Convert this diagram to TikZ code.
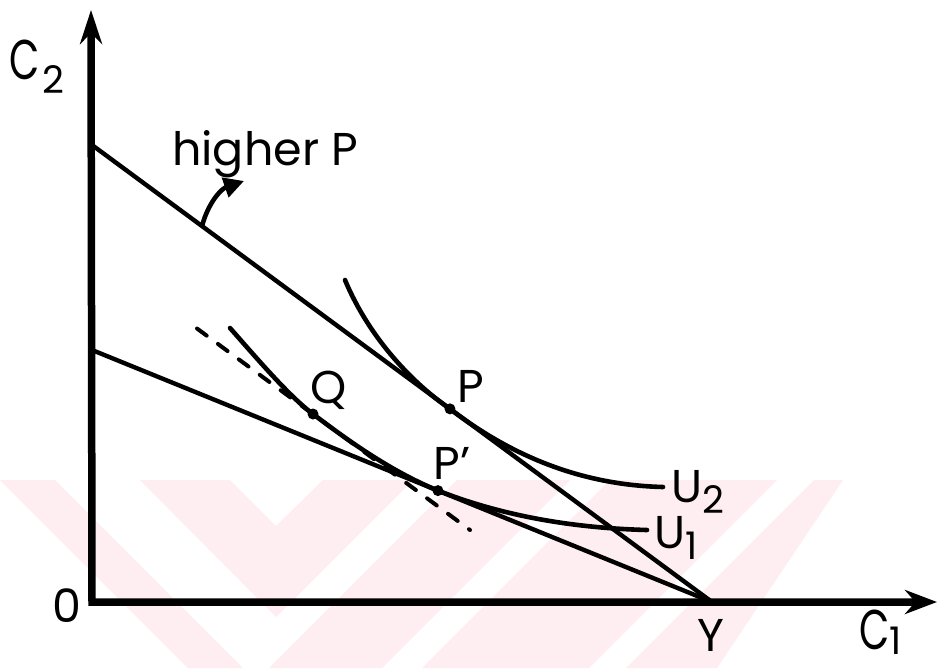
\documentclass[tikz,border=0pt]{standalone}
\usepackage{fontspec}
\usepackage{graphicx}
\setmainfont{Poppins}
\usetikzlibrary{arrows.meta,calc}
\definecolor{wm}{RGB}{254,238,241}
\begin{document}
\begin{tikzpicture}[x=1pt,y=-1pt,
  axisline/.style={line width=7.5pt, {Stealth[length=34pt,width=22pt]}-{Stealth[length=32pt,width=24pt]}},
  bline/.style={line width=4.4pt},
  icurve/.style={line width=4.6pt, line cap=round},
  tang/.style={line width=4pt, line cap=round, dash pattern=on 12pt off 14pt},
  dotn/.style={circle, fill, inner sep=0pt, minimum size=11pt},
  lbl/.style={inner sep=0pt, font=\fontsize{46}{50}\selectfont},
  biglbl/.style={inner sep=0pt, font=\fontsize{56}{60}\selectfont},
  sublbl/.style={inner sep=0pt, font=\fontsize{38}{42}\selectfont}]
\useasboundingbox (0,0) rectangle (939,669);
\fill[white] (0,0) rectangle (939,669);
% watermark
\fill[wm] (0,480) -- (55,480) -- (243,668) -- (188,668) -- cycle;
\fill[wm] (140,480) -- (230,480) -- (276,526) -- (323,480) -- (413,480) -- (276,617) -- cycle;
\fill[wm] (457,480) -- (570,480) -- (382,668) -- (269,668) -- cycle;
\fill[wm] (610,480) -- (777,480) -- (589,668) -- (422,668) -- cycle;
\fill[wm] (814,480) -- (843,480) -- (717,668) -- (626,668) -- cycle;
% coordinates
\coordinate (O) at (92,602);
\coordinate (ytip) at (91,10);
\coordinate (xtip) at (937,602);
\coordinate (Y) at (712,602);
\coordinate (hi) at (92,145);
\coordinate (lo) at (92,350);
\coordinate (P) at ($(hi)!0.5774!(Y)$);
\coordinate (Pp) at ($(lo)!0.558!(Y)$);
\coordinate (Q) at (313,414);
\coordinate (t1) at (197,328.5);
\coordinate (t2) at (470,530);
\coordinate (u2a) at (345,280);
\coordinate (u2b) at (663,487);
\coordinate (u1a) at (230,328);
\coordinate (u1b) at (647,530);
\coordinate (hp) at ($(hi)!0.1774!(Y)$);
\coordinate (hptip) at (244,181);
% axes
\draw[axisline] (ytip) -- (O) -- (xtip);
% budget lines
\draw[bline] (hi) -- (Y);
\draw[bline] (lo) -- (Y);
% compensated tangent
\draw[tang] (t1) -- (t2);
% indifference curves
\draw[icurve] (u2a) .. controls (370,340) and (415,385) .. (P)
  .. controls (510,455) and (580,485) .. (u2b);
\draw[icurve] (u1a) .. controls (260,362) and (290,397) .. (Q)
  .. controls (355,446) and (395,473) .. (Pp)
  .. controls (500,515) and (570,528) .. (u1b);
% dots
\node[dotn] (Pd) at (P) {};
\node[dotn] (Ppd) at (Pp) {};
\node[dotn] (Qd) at (Q) {};
% higher P arrow
\draw[line width=4.6pt, -{Triangle[length=20pt,width=20pt]}] (hp) to[bend left=28] (hptip);
% labels
\node[biglbl] (C2) at (25,60) {\scalebox{0.7}[1]{C}};
\node[sublbl] (C2s) at (53,80) {2};
\node[lbl, anchor=base west] (hl) at (172,165) {higher P};
\node[lbl] (Ql) at (329,390) {Q};
\node[lbl] (Pl) at (471,386) {P};
\node[lbl] (Ppl) at (452,463) {P'};
\node[lbl] (U2l) at (687,487) {U};
\node[sublbl] (U2s) at (713,500) {2};
\node[lbl] (U1l) at (670,533) {U};
\node[sublbl] (U1s) at (692,546) {1};
\node[lbl] (Ol) at (67,606) {0};
\node[lbl] (Yl) at (711,635) {Y};
\node[biglbl] (C1l) at (875,630) {\scalebox{0.7}[1]{C}};
\node[sublbl] (C1s) at (896,641) {1};
\end{tikzpicture}
\end{document}
